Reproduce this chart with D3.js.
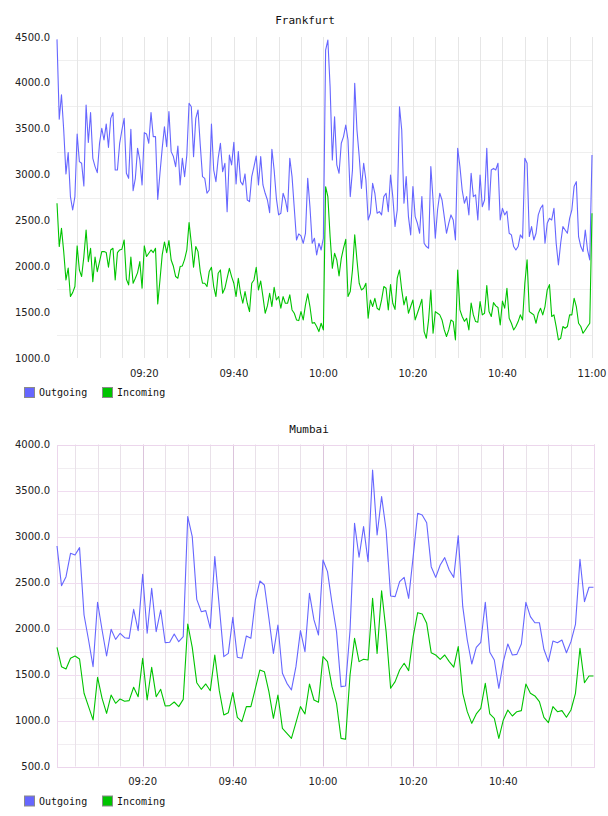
<!DOCTYPE html>
<html>
<head>
<meta charset="utf-8">
<script src="https://cdn.jsdelivr.net/npm/d3@7"></script>
<style>
  body { margin: 0; background: #fff; }
</style>
</head>
<body>
<div id="graphes"></div>
<script>
// Traffic values

// Frankfurt: one sample every 30 s from 09:00:30 to 11:00:00
var frankfurtOutgoing = [
  4474,3603,3870,3486,3007,3239,2760,2614,2760,3443,3141,3123,2876,3759,3350,3675,3177,3087,3021,3341,
  3505,3377,3552,3297,3613,3675,3050,3050,3341,3486,3613,3014,2959,3493,2825,2959,3286,3159,2887,3457,
  3443,3341,3675,3414,3414,2730,3014,3286,3522,3305,3686,3250,3196,3087,3312,2887,3177,2978,3214,3777,
  3740,3196,3613,3704,3323,2978,2959,2796,2832,3552,3050,2923,3177,3341,3032,3123,2596,3214,3105,3352,
  2898,3250,2923,2887,3007,2723,2705,2978,3087,3203,2887,3196,2887,2796,2723,2585,3275,3050,2741,2560,
  2578,2796,2723,2596,3177,2978,2632,2287,2353,2331,2251,2360,2959,2650,2251,2306,2124,2251,2178,2306,
  4358,4467,3958,3159,3631,3105,3014,3341,3414,3540,3377,2760,3050,3995,3486,3200,2850,3123,2941,2505,
  2578,2905,2796,2578,2596,2560,2760,2796,2596,2996,2760,2433,2614,3740,3486,2687,2978,2542,2342,2869,
  2542,2469,2360,2760,2251,2215,2197,3087,2723,2306,2614,2796,2723,2542,2360,2469,2560,2505,2287,3286,
  3087,2832,2687,2760,2560,3014,2760,2778,2505,2996,2650,2723,3286,2614,3050,3068,3050,3123,2505,2632,
  2560,2600,2360,2342,2215,2178,2215,2342,2306,3177,3123,2324,2433,2287,2360,2560,2632,2669,2251,2469,
  2523,2505,2632,2251,2015,2251,2433,2396,2360,2523,2614,2869,2923,2324,2215,2160,2396,2178,2069,3214
];
var frankfurtIncoming = [
  2687,2215,2414,2160,1851,1980,1670,1713,1779,2222,1960,1888,2106,2396,2051,2197,1833,2100,1942,2051,
  2160,2160,2149,1990,2178,2197,1851,2149,2178,2186,2287,1859,1797,2100,1815,1870,1931,2051,1760,2222,
  2106,2142,2178,2149,2197,1590,1851,2124,2265,2149,2280,2069,2000,1888,1870,1997,2004,2076,2178,2476,
  2251,1990,2215,2160,1942,1815,1815,1779,1942,1990,1779,1670,1924,1960,1706,1760,1870,1978,1888,1815,
  1670,1870,1706,1597,1724,1597,1506,1815,1851,1989,1742,1840,1670,1488,1568,1706,1561,1771,1633,1670,
  1543,1670,1597,1597,1688,1524,1488,1415,1408,1506,1415,1579,1700,1561,1379,1386,1343,1288,1379,1306,
  2868,2760,2324,1978,2142,2069,1895,2087,2197,2294,1670,1724,1960,2342,2069,1815,1742,1760,1815,1433,
  1633,1561,1650,1543,1524,1633,1779,1760,1524,1800,1597,1530,1870,1960,1742,1579,1670,1488,1561,1633,
  1415,1488,1561,1641,1288,1215,1415,1742,1270,1506,1488,1470,1415,1306,1234,1306,1415,1397,1197,1960,
  1524,1452,1400,1433,1306,1600,1470,1397,1390,1615,1470,1488,1790,1506,1452,1604,1568,1550,1361,1620,
  1543,1760,1433,1379,1306,1343,1397,1470,1415,1815,2070,1506,1488,1470,1379,1488,1543,1470,1561,1742,
  1800,1452,1470,1343,1197,1215,1343,1324,1343,1470,1470,1652,1561,1379,1343,1270,1306,1343,1379,2578
];

// Mumbai: one sample every minute from 09:01 to 11:00
var mumbaiOutgoing = [
  2897,2466,2563,2817,2799,2879,2147,1875,1585,2285,1984,1701,1991,1882,1948,1900,1893,2208,1977,2589,
  1948,2437,1966,2201,1846,1850,1940,1857,1911,3216,2998,2317,2183,2194,2002,2781,2237,1694,1730,2121,
  1687,1676,1919,1893,2310,2516,2473,2111,1730,2038,1513,1404,1332,1585,1977,1748,2382,2093,1929,2745,
  2618,2274,1966,1368,1375,1984,3143,2774,3107,2727,3723,3016,3433,3071,2353,2346,2509,2556,2328,2781,
  3252,3234,3150,2672,2556,2690,2770,2636,2556,3009,2237,1875,1614,1795,1850,2284,1741,1658,1350,1640,
  1832,1712,1719,1832,2284,2129,2063,2063,1774,1640,1864,1846,1875,1737,1857,2045,2752,2292,2448,2448
];
var mumbaiIncoming = [
  1795,1585,1560,1676,1701,1669,1296,1151,1006,1469,1241,1078,1277,1187,1234,1209,1216,1361,1259,1676,
  1223,1578,1259,1339,1158,1162,1201,1151,1230,2049,1795,1411,1339,1397,1324,1712,1324,1060,1085,1303,
  1035,988,1151,1151,1350,1549,1531,1314,1024,1277,915,861,806,977,1151,1071,1397,1223,1198,1694,
  1640,1368,1187,806,796,1495,1893,1640,1665,1658,2328,1730,2411,1966,1350,1422,1549,1622,1542,1911,
  2172,2158,2056,1737,1712,1665,1712,1640,1580,1803,1296,1096,969,1071,1132,1404,1071,1024,806,1006,
  1114,1049,1096,1107,1397,1296,1267,1205,1035,977,1151,1096,1107,1035,1114,1296,1785,1411,1484,1484
];

var frankfurtStart = "09:00:30", frankfurtStep = 30;   // secondes
var mumbaiStart = "09:01:00", mumbaiStep = 60;

var frankfurtYTicks = [1000, 1500, 2000, 2500, 3000, 3500, 4000, 4500];
var mumbaiYTicks = [500, 1000, 1500, 2000, 2500, 3000, 3500, 4000];
var frankfurtXLabels = ["09:20", "09:40", "10:00", "10:20", "10:40", "11:00"];
var mumbaiXLabels = ["09:20", "09:40", "10:00", "10:20", "10:40"];

var seriesNames = ["Outgoing", "Incoming"];
var seriesColors = ["#6666ff", "#00c400"];

//Debut graph

var svg = d3.select("#graphes")
    .append("svg")
    .attr("width", 608)
    .attr("height", 816);

var parseTime = d3.timeParse("%H:%M:%S"),
    parseLabel = d3.timeParse("%H:%M"),
    fmtY = d3.format(".1f");

function crisp(v) { return Math.round(v) + 0.5; }

function drawPanel(p) {
  var t0 = parseTime(p.start);
  var times = p.series[0].map(function(d, i) { return new Date(t0.getTime() + i * p.step * 1000); });

  var x = d3.scaleTime()
      .domain([times[0], times[times.length - 1]])
      .range([p.left, p.right]);
  var y = d3.scaleLinear()
      .domain([p.yTicks[0], p.yTicks[p.yTicks.length - 1]])
      .range([p.bottom, p.top]);

  var g = svg.append("g");

  // horizontal minor grid (half way between labels)
  var half = (p.yTicks[1] - p.yTicks[0]) / 2;
  g.selectAll(".hmin")
    .data(p.yTicks.slice(1).map(function(d) { return d - half; }))
    .enter().append("line")
      .attr("x1", p.left).attr("x2", p.right)
      .attr("y1", function(d) { return crisp(y(d)); })
      .attr("y2", function(d) { return crisp(y(d)); })
      .attr("stroke", p.framed ? "#f1edf1" : "#efefef");

  // vertical grid every 5 minutes
  var minutes = d3.timeMinute.every(5).range(x.domain()[0], new Date(+x.domain()[1] + 1));
  g.selectAll(".vgrid")
    .data(minutes)
    .enter().append("line")
      .attr("x1", function(d) { return crisp(x(d)); })
      .attr("x2", function(d) { return crisp(x(d)); })
      .attr("y1", p.top).attr("y2", p.bottom)
      .attr("stroke", function(d) {
        if (!p.framed) return "#e6e6e6";
        return d.getMinutes() % 20 == 0 ? "#dcc4dc" : "#e9e1e9";
      });

  if (p.framed) {
    g.selectAll(".hmaj")
      .data(p.yTicks.slice(1, -1))
      .enter().append("line")
        .attr("x1", p.left).attr("x2", p.right)
        .attr("y1", function(d) { return crisp(y(d)); })
        .attr("y2", function(d) { return crisp(y(d)); })
        .attr("stroke", "#f0dcf0");
    g.append("rect")
      .attr("x", crisp(p.left)).attr("y", crisp(p.top))
      .attr("width", Math.round(p.right - p.left)).attr("height", Math.round(p.bottom - p.top))
      .attr("fill", "none")
      .attr("stroke", "#ecd6ec");
  }

  // y labels
  g.selectAll(".ylab")
    .data(p.yTicks)
    .enter().append("text")
      .attr("x", 50)
      .attr("y", function(d) { return y(d); })
      .attr("dy", "0.35em")
      .attr("text-anchor", "end")
      .attr("font-family", "DejaVu Sans")
      .attr("font-size", "10px")
      .attr("fill", "#222")
      .text(fmtY);

  // x labels
  g.selectAll(".xlab")
    .data(p.xLabels)
    .enter().append("text")
      .attr("x", function(d) { return x(parseLabel(d)); })
      .attr("y", p.bottom + 15)
      .attr("dy", "0.35em")
      .attr("text-anchor", "middle")
      .attr("font-family", "DejaVu Sans")
      .attr("font-size", "10px")
      .attr("fill", "#222")
      .text(function(d) { return d; });

  // lines
  var line = d3.line()
      .x(function(d, i) { return x(times[i]); })
      .y(function(d) { return y(d); });

  p.series.forEach(function(s, i) {
    g.append("path")
      .datum(s)
      .attr("fill", "none")
      .attr("stroke", seriesColors[i])
      .attr("stroke-width", 1.1)
      .attr("stroke-linejoin", "round")
      .attr("d", line);
  });

  // title
  g.append("text")
    .attr("x", p.titleX)
    .attr("y", p.titleY)
    .attr("dy", "0.35em")
    .attr("text-anchor", "middle")
    .attr("font-family", "DejaVu Sans Mono")
    .attr("font-size", "11px")
    .attr("fill", "#111")
    .text(p.title);

  // legend
  var legend = g.selectAll(".legend")
    .data(seriesNames)
    .enter().append("g")
      .attr("transform", function(d, i) { return "translate(" + (24 + i * 78) + "," + (p.bottom + 29) + ")"; });

  legend.append("rect")
    .attr("x", 0.5).attr("y", 0.5)
    .attr("width", 10).attr("height", 10)
    .attr("fill", function(d, i) { return seriesColors[i]; })
    .attr("stroke", "#8a8a8a");

  legend.append("text")
    .attr("x", 15)
    .attr("y", 5.5)
    .attr("dy", "0.35em")
    .attr("font-family", "DejaVu Sans Mono")
    .attr("font-size", "10px")
    .attr("fill", "#111")
    .text(function(d) { return d; });
}

drawPanel({
  title: "Frankfurt", titleX: 305, titleY: 20,
  start: frankfurtStart, step: frankfurtStep,
  series: [frankfurtOutgoing, frankfurtIncoming],
  yTicks: frankfurtYTicks, xLabels: frankfurtXLabels,
  left: 57, right: 592, top: 37, bottom: 358,
  framed: false
});

drawPanel({
  title: "Mumbai", titleX: 309, titleY: 429,
  start: mumbaiStart, step: mumbaiStep,
  series: [mumbaiOutgoing, mumbaiIncoming],
  yTicks: mumbaiYTicks, xLabels: mumbaiXLabels,
  left: 57, right: 593.5, top: 444.5, bottom: 766.5,
  framed: true
});
</script>
</body>
</html>
